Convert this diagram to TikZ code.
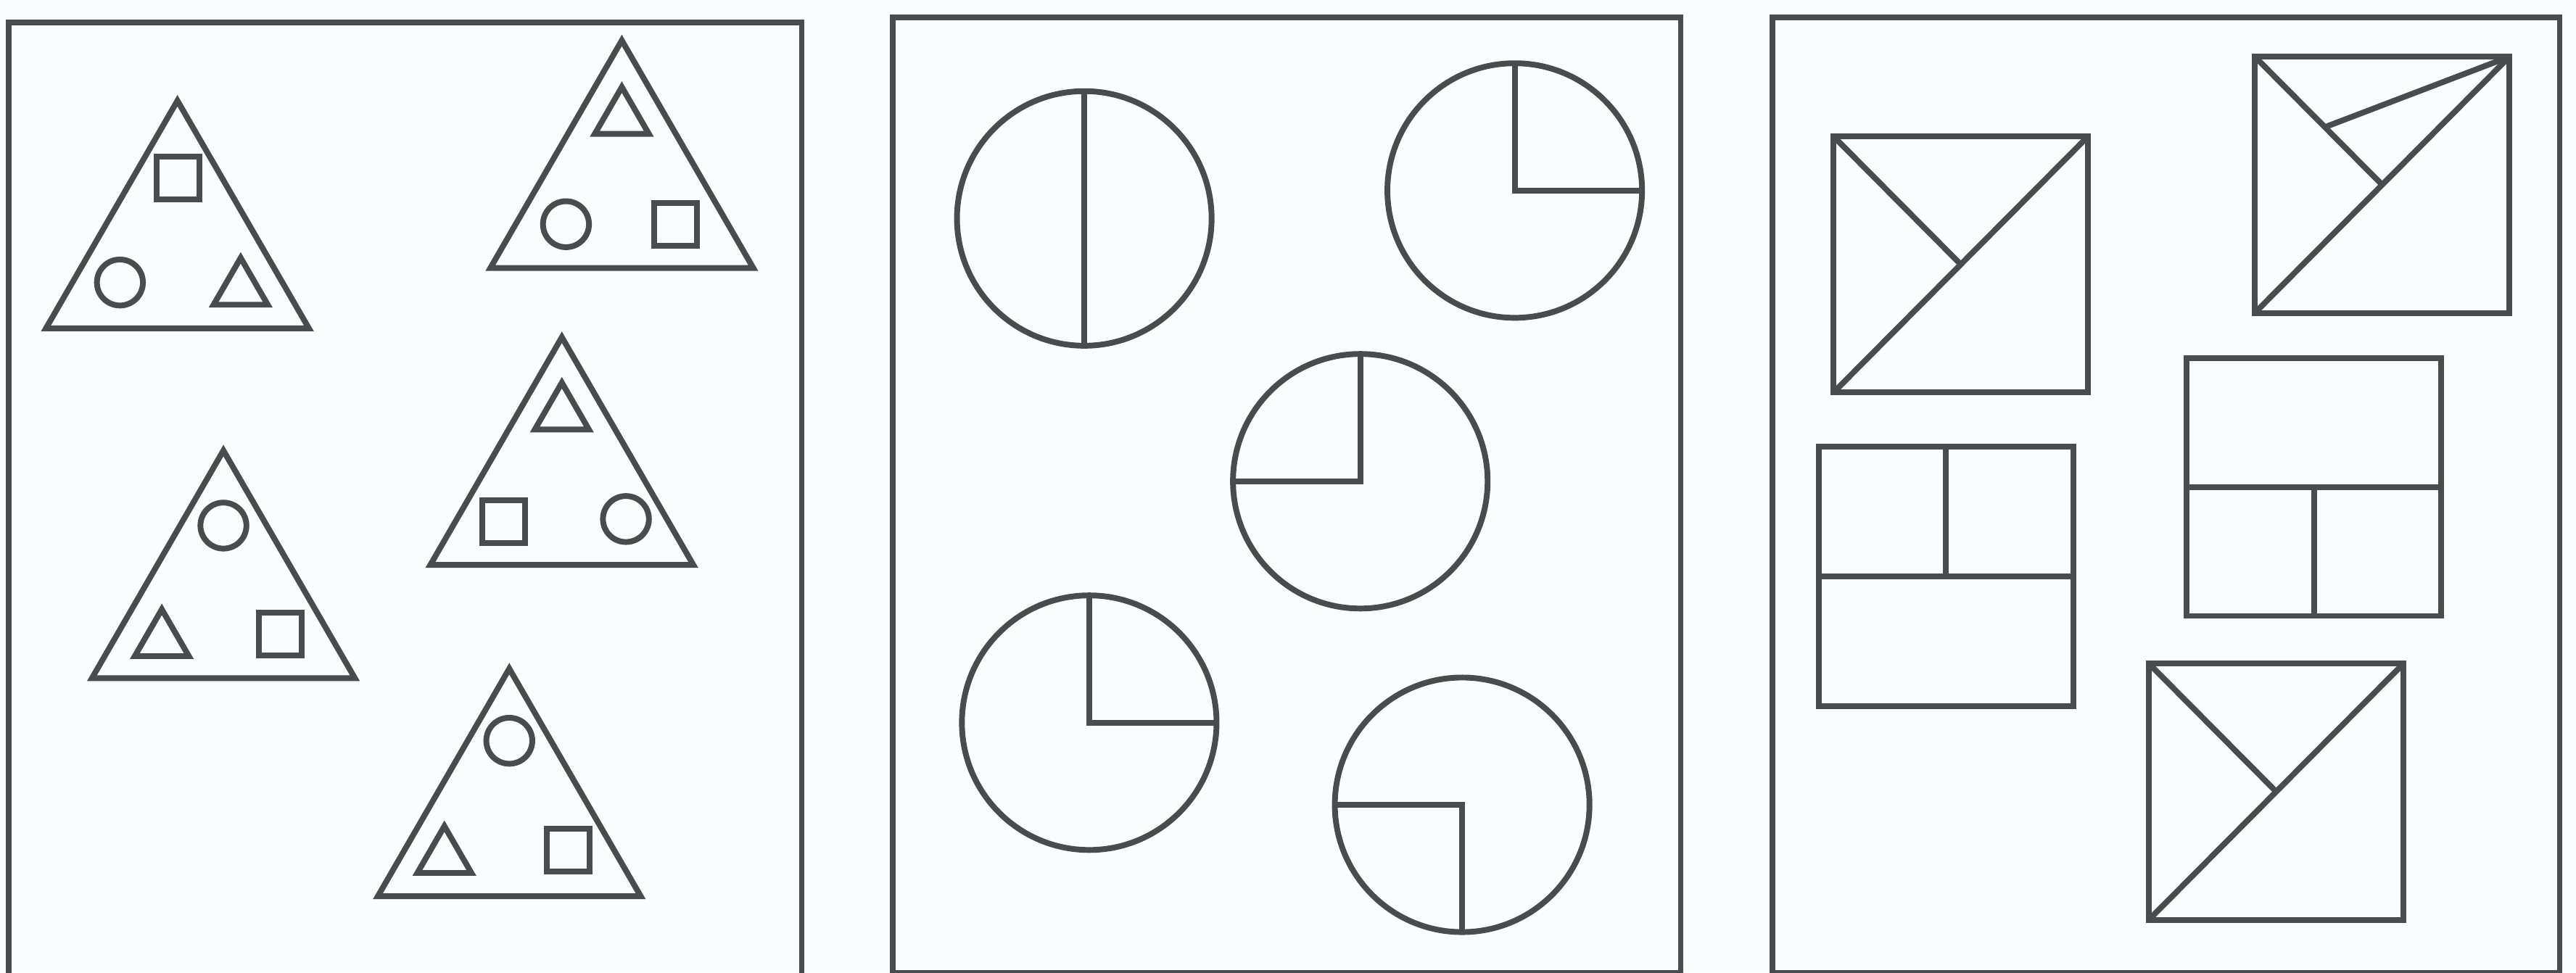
\documentclass[tikz,border=0pt]{standalone}
\usetikzlibrary{calc,shapes.geometric}
\definecolor{trazo}{RGB}{72,76,78}
\definecolor{fondo}{RGB}{250,252,253}

\begin{document}
\begin{tikzpicture}[x=1pt,y=-1pt,line width=3.5pt,color=trazo,
  every node/.style={draw,inner sep=0pt,outer sep=0pt},
  tri/.style={regular polygon,regular polygon sides=3,minimum size=184.8pt},
  trichico/.style={regular polygon,regular polygon sides=3,minimum size=38pt},
  cuadchico/.style={rectangle,minimum size=26pt},
  circchico/.style={circle,minimum size=28pt},
  disco/.style={circle,minimum size=155pt},
  caja/.style={rectangle,minimum width=155pt,minimum height=156pt},
  marco/.style={line width=3.4pt}]

% Fondo y recorte
\clip (0,0) rectangle (1568,592);
\fill[fondo] (0,0) rectangle (1568,592);

% Marcos
\draw[marco] (5.3,13.7) rectangle (488,594.5);
\draw[marco] (543.5,10.5) rectangle (1023,592.5);
\draw[marco] (1079,10.5) rectangle (1558,592.5);

% Triangulos grandes
\node[tri] (t1) at (108,153.7) {};
\node[tri] (t2) at (378.5,117) {};
\node[tri] (t3) at (342,297.7) {};
\node[tri] (t4) at (136,366.7) {};
\node[tri] (t5) at (310,499.5) {};

% Figuras dentro de los triangulos
\node[cuadchico] (q1) at (108.2,108.4) {};
\node[circchico] (o1) at (73,172) {};
\node[trichico] (d1) at (146.5,176) {};

\node[trichico] (d2) at (378.5,72) {};
\node[circchico] (o2) at (344.5,136.5) {};
\node[cuadchico] (q2) at (411.3,136.8) {};

\node[trichico] (d3) at (342,252) {};
\node[cuadchico] (q3) at (306.5,317.5) {};
\node[circchico] (o3) at (381,316) {};

\node[circchico] (o4) at (136,320) {};
\node[trichico] (d4) at (98.5,390) {};
\node[cuadchico] (q4) at (170.5,386) {};

\node[circchico] (o5) at (310,451) {};
\node[trichico] (d5) at (270.5,522) {};
\node[cuadchico] (q5) at (346,517.5) {};

% Circulos
\node[disco] (c1) at (660,133) {};
\node[disco] (c2) at (922,116) {};
\node[disco] (c3) at (828,293) {};
\node[disco] (c4) at (663,440) {};
\node[disco] (c5) at (890,490) {};

\draw (c1.north) -- (c1.south);
\draw (c2.north) -- (c2.center) -- (c2.east);
\draw (c3.north) -- (c3.center) -- (c3.west);
\draw (c4.north) -- (c4.center) -- (c4.east);
\draw (c5.west) -- (c5.center) -- (c5.south);

% Cuadrados
\node[caja] (s1) at (1193.5,161) {};
\node[caja] (s2) at (1450,112.5) {};
\node[caja,minimum height=158pt] (s3) at (1184.5,351) {};
\node[caja,minimum height=157pt] (s4) at (1408.5,296.5) {};
\node[caja] (s5) at (1385.5,482) {};

\draw (s1.south west) -- (s1.north east) (s1.north west) -- (s1.center);
\draw (s2.south west) -- (s2.north east) (s2.north west) -- (s2.center);
\draw (s2.north east) -- ($(s2.north west)!0.55!(s2.center)$);
\draw (s3.west) -- (s3.east) (s3.north) -- (s3.center);
\draw (s4.west) -- (s4.east) (s4.center) -- (s4.south);
\draw (s5.south west) -- (s5.north east) (s5.north west) -- (s5.center);

\end{tikzpicture}
\end{document}
